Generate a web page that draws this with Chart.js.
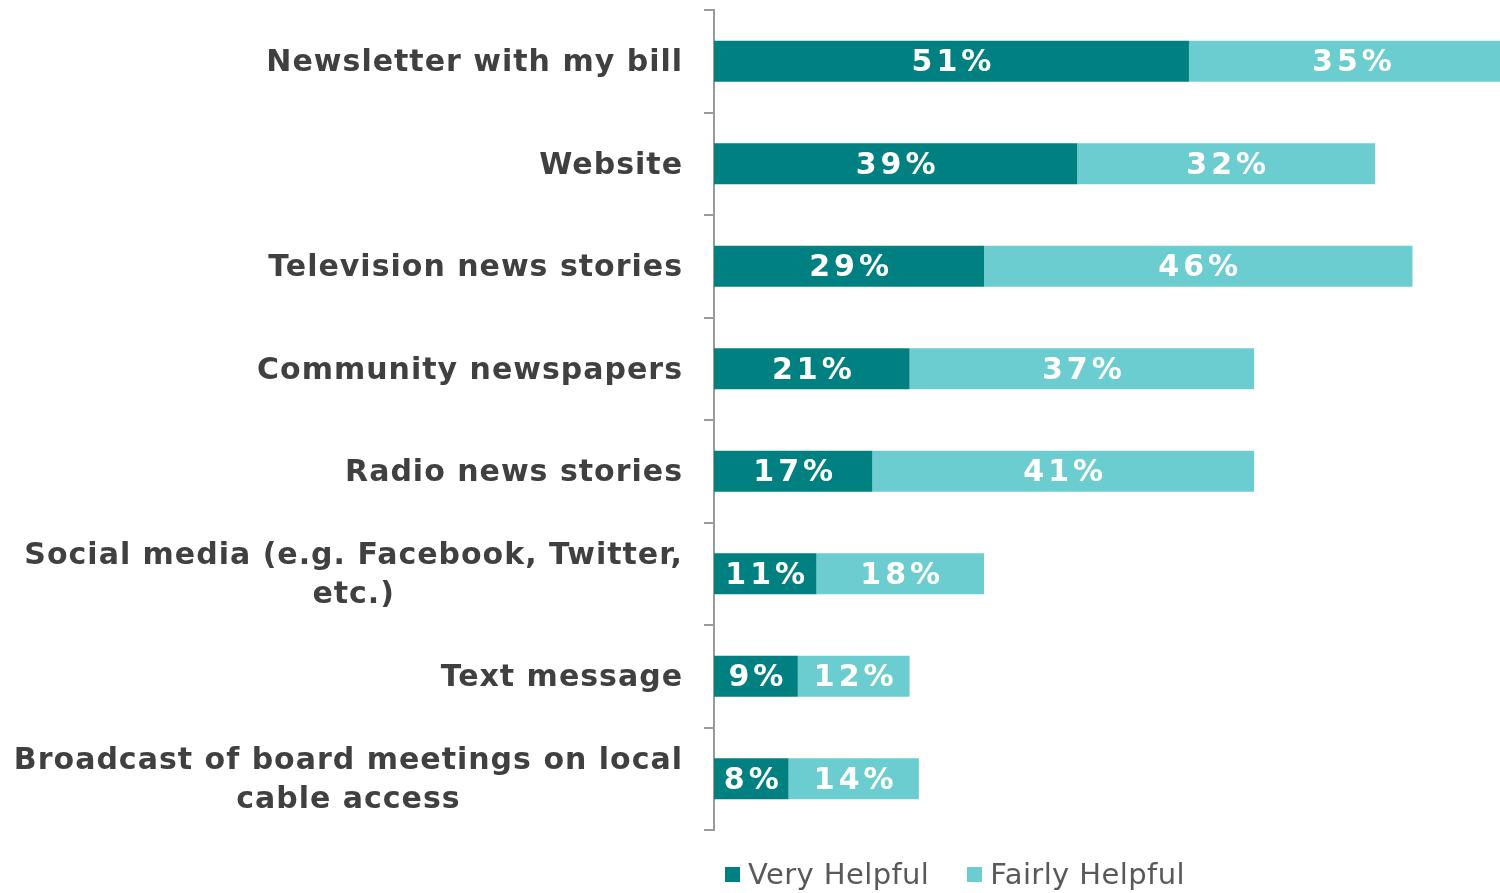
<!DOCTYPE html>
<html>
<head>
<meta charset="utf-8">
<script src="https://cdn.jsdelivr.net/npm/chart.js@4"></script>
<style>
  html, body { margin: 0; padding: 0; background: #fff; }
  #wrap { position: relative; width: 1500px; height: 893px; }
  #legende {
    position: absolute; left: 725px; top: 857px;
    display: flex; align-items: center;
    font-family: "DejaVu Sans", sans-serif; font-size: 29px; color: #595959;
    letter-spacing: 0.4px;
  }
  #legende span.carre { display: inline-block; width: 15px; height: 15px; margin-right: 8px; }
  #legende .item { display: flex; align-items: center; margin-right: 38px; }
</style>
</head>
<body>
<div id="wrap">
  <canvas id="graphique" width="1500" height="893"></canvas>
  <div id="legende"></div>
</div>
<script>
// catégories (une ligne par entrée, tableau = plusieurs lignes)
const categories = [
  "Newsletter with my bill",
  "Website",
  "Television news stories",
  "Community newspapers",
  "Radio news stories",
  ["Social media (e.g. Facebook, Twitter,", "etc.)"],
  "Text message",
  ["Broadcast of board meetings on local", "cable access"]
];
const tresUtile = [51, 39, 29, 21, 17, 11, 9, 8];
const assezUtile = [35, 32, 46, 37, 41, 18, 12, 14];
const nomsSeries = ["Very Helpful", "Fairly Helpful"];
const couleurs = ["#008080", "#6CCDD0"];
const xMax = 84.4;

const policeLabels = 'bold 30px "DejaVu Sans", sans-serif';

// étiquettes de valeurs au centre de chaque segment
const pluginValeurs = {
  id: "valeurs",
  afterDatasetsDraw(chart) {
    const ctx = chart.ctx;
    ctx.save();
    ctx.font = 'bold 30px "DejaVu Sans", sans-serif';
    ctx.fillStyle = "#ffffff";
    ctx.textAlign = "center";
    ctx.textBaseline = "middle";
    ctx.letterSpacing = "4px";
    chart.data.datasets.forEach((ds, i) => {
      chart.getDatasetMeta(i).data.forEach((bar, j) => {
        const cx = (bar.x + bar.base) / 2;
        ctx.fillText(ds.data[j] + "%", cx + 2, bar.y + 2);
      });
    });
    ctx.restore();
  }
};

// libellés de l'axe vertical, les lignes multiples sont centrées entre elles
const pluginCategories = {
  id: "categories",
  afterDraw(chart) {
    const ctx = chart.ctx;
    const echelle = chart.scales.y;
    const droite = echelle.right - 31;
    const hauteurLigne = 39;
    ctx.save();
    ctx.font = policeLabels;
    ctx.letterSpacing = "1px";
    ctx.fillStyle = "#404040";
    ctx.textBaseline = "middle";
    categories.forEach((lib, j) => {
      const y = echelle.getPixelForValue(j) + 2;
      const lignes = Array.isArray(lib) ? lib : [lib];
      const largeur = Math.max(...lignes.map(l => ctx.measureText(l).width));
      const centre = droite - largeur / 2;
      ctx.textAlign = "center";
      lignes.forEach((l, k) => {
        const dy = (k - (lignes.length - 1) / 2) * hauteurLigne;
        ctx.fillText(l, centre, y + dy);
      });
    });
    ctx.restore();
  }
};

const configuration = {
  type: "bar",
  data: {
    labels: categories.map(c => Array.isArray(c) ? c.join(" ") : c),
    datasets: [
      {
        label: nomsSeries[0],
        data: tresUtile,
        backgroundColor: couleurs[0],
        categoryPercentage: 1,
        barPercentage: 0.4
      },
      {
        label: nomsSeries[1],
        data: assezUtile,
        backgroundColor: couleurs[1],
        categoryPercentage: 1,
        barPercentage: 0.4
      }
    ]
  },
  options: {
    indexAxis: "y",
    responsive: false,
    animation: false,
    layout: { padding: { top: 10, bottom: 63, left: 0, right: 0 } },
    plugins: { legend: { display: false }, tooltip: { enabled: false } },
    scales: {
      x: { stacked: true, display: false, min: 0, max: xMax },
      y: {
        stacked: true,
        ticks: { display: false },
        grid: {
          offset: true,
          drawOnChartArea: false,
          drawTicks: true,
          tickLength: 10,
          color: "#9a9a9a",
          lineWidth: 2
        },
        border: { color: "#9a9a9a", width: 2 },
        afterFit(scale) { scale.width = 714; }
      }
    }
  },
  plugins: [pluginValeurs, pluginCategories]
};

const graphique = document.getElementById("graphique");
const chart = new Chart(graphique, configuration);

// légende en bas
const legende = document.getElementById("legende");
nomsSeries.forEach((nom, i) => {
  const item = document.createElement("div");
  item.className = "item";
  item.innerHTML = `<span class="carre" style="background:${couleurs[i]}"></span>${nom}`;
  legende.appendChild(item);
});
</script>
</body>
</html>
